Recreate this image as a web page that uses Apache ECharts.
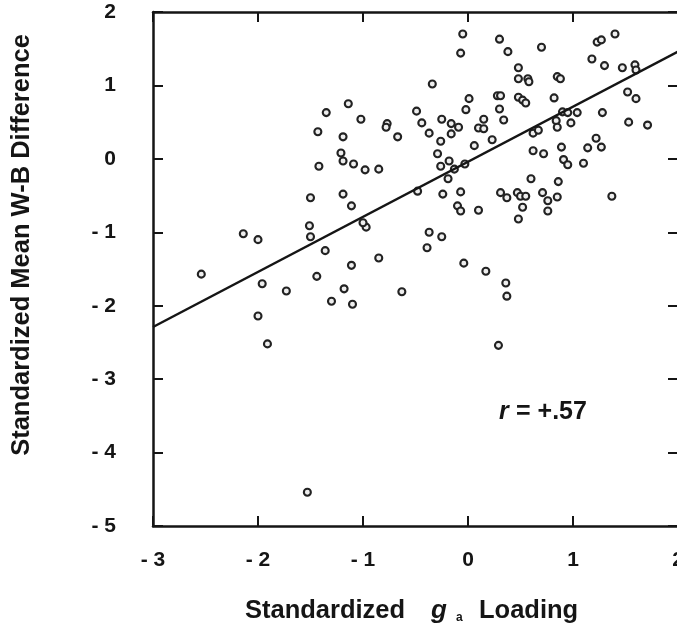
<!DOCTYPE html>
<html>
<head>
<meta charset="utf-8">
<script src="https://cdn.jsdelivr.net/npm/echarts@6/dist/echarts.min.js"></script>
<style>
  html, body { margin: 0; padding: 0; background: #fff; }
  #chart { width: 677px; height: 629px; }
</style>
</head>
<body>
<div id="chart"></div>
<script>
// Standardized g loading (x) against standardized mean W-B difference (y)
const xTickValues = [-3, -2, -1, 0, 1, 2];
const xTickLabels = ['- 3', '- 2', '- 1', '0', '1', '2'];
const yTickValues = [-5, -4, -3, -2, -1, 0, 1, 2];
const yTickLabels = ['- 5', '- 4', '- 3', '- 2', '- 1', '0', '1', '2'];

const gLoading = [
  -1.35, -1.43, -1.42, -1.50, -0.05, 0.30, -0.07, 0.38, -0.34, -1.14,
  0.01, 0.28, 0.31, -0.49, -0.02, 0.30, -1.02, -0.25, 0.15, 0.34,
  -0.77, -0.78, -0.44, -0.16, -0.09, 0.10, 0.15, -1.19, -0.67, -0.37,
  -0.16, -0.26, 0.23, 0.06, -1.21, -1.19, -0.29, -1.09, -0.98, -0.85,
  -0.26, -0.18, -0.13, -0.03, -0.19, -1.19, -0.48, -0.24, -0.07, 0.31,
  0.37, 0.70, 1.23, 1.27, 1.40, 1.18, 1.30, 1.47, 1.59, 1.60,
  0.48, 0.48, 0.57, 0.58, 0.85, 0.88, 1.52, 1.60, 0.48, 0.52,
  0.55, 0.82, 1.28, 0.90, 0.95, 1.04, 0.84, 0.85, 0.98, 1.53,
  1.71, 0.62, 0.67, 0.62, 0.72, 0.89, 0.91, 0.95, 1.14, 1.22,
  1.27, 1.10, 0.60, 0.86, 0.47, 0.50, 0.55, 0.71, 1.37, 0.85,
  0.76, 0.52, 0.76, 0.48, 0.36, 0.37, 0.29, -1.11, -0.97, -1.00,
  -0.10, -0.07, 0.10, -0.37, -0.25, -0.39, -0.85, -1.11, -0.04, 0.17,
  -1.18, -1.30, -1.10, -0.63, -2.14, -2.00, -1.51, -1.50, -1.36, -2.54,
  -1.96, -1.73, -1.44, -2.00, -1.91, -1.53
];
const wbDifference = [
  0.63, 0.37, -0.10, -0.53, 1.70, 1.63, 1.44, 1.46, 1.02, 0.75,
  0.82, 0.86, 0.86, 0.65, 0.67, 0.68, 0.54, 0.54, 0.54, 0.53,
  0.48, 0.43, 0.49, 0.48, 0.43, 0.42, 0.41, 0.30, 0.30, 0.35,
  0.34, 0.24, 0.26, 0.18, 0.08, -0.03, 0.07, -0.07, -0.15, -0.14,
  -0.10, -0.03, -0.14, -0.07, -0.27, -0.48, -0.44, -0.48, -0.45, -0.46,
  -0.53, 1.52, 1.59, 1.62, 1.70, 1.36, 1.27, 1.24, 1.28, 1.21,
  1.24, 1.09, 1.09, 1.05, 1.12, 1.09, 0.91, 0.82, 0.84, 0.80,
  0.76, 0.83, 0.63, 0.64, 0.63, 0.63, 0.52, 0.43, 0.49, 0.50,
  0.46, 0.35, 0.39, 0.11, 0.07, 0.16, -0.01, -0.08, 0.15, 0.28,
  0.16, -0.06, -0.27, -0.31, -0.46, -0.51, -0.51, -0.46, -0.51, -0.52,
  -0.57, -0.66, -0.71, -0.82, -1.69, -1.87, -2.54, -0.64, -0.93, -0.87,
  -0.64, -0.71, -0.70, -1.00, -1.06, -1.21, -1.35, -1.45, -1.42, -1.53,
  -1.77, -1.94, -1.98, -1.81, -1.02, -1.10, -0.91, -1.06, -1.25, -1.57,
  -1.70, -1.80, -1.60, -2.14, -2.52, -4.54
];

// Least-squares line, drawn between its two ends
const fitX = [-3, 2];
const fitY = [-2.29, 1.46];

const ink = '#151515';
const fontFamily = '"Liberation Sans", Arial, Helvetica, sans-serif';

function labelFor(values, labels) {
  return function (v) {
    const i = values.findIndex(t => Math.abs(t - v) < 1e-9);
    return i >= 0 ? labels[i] : '';
  };
}

const frameLine = { show: true, onZero: false, lineStyle: { color: ink, width: 2.5 } };
const innerTick = { show: true, inside: true, length: 10, lineStyle: { color: ink, width: 2 } };
const tickFont = { color: ink, fontFamily: fontFamily, fontWeight: 'bold', fontSize: 21 };

const chart = echarts.init(document.getElementById('chart'), null, { renderer: 'canvas' });

chart.setOption({
  backgroundColor: '#ffffff',
  animation: false,
  grid: { left: 153, right: -1, top: 12, bottom: 103, containLabel: false, outerBoundsMode: 'none' },
  xAxis: [
    {
      type: 'value', position: 'bottom', min: -3, max: 2, interval: 1,
      axisLine: frameLine, axisTick: innerTick, splitLine: { show: false },
      axisLabel: Object.assign({ margin: 24, formatter: labelFor(xTickValues, xTickLabels),
        showMinLabel: true, showMaxLabel: true }, tickFont)
    },
    {
      type: 'value', position: 'top', min: -3, max: 2, interval: 1,
      axisLine: frameLine, axisTick: innerTick, splitLine: { show: false },
      axisLabel: { show: false }
    }
  ],
  yAxis: [
    {
      type: 'value', position: 'left', min: -5, max: 2, interval: 1,
      axisLine: frameLine, axisTick: innerTick, splitLine: { show: false },
      axisLabel: Object.assign({ margin: 37, align: 'right', formatter: labelFor(yTickValues, yTickLabels),
        showMinLabel: true, showMaxLabel: true }, tickFont)
    },
    {
      type: 'value', position: 'right', min: -5, max: 2, interval: 1,
      axisLine: frameLine, axisTick: innerTick, splitLine: { show: false },
      axisLabel: { show: false }
    }
  ],
  series: [
    {
      type: 'scatter',
      xAxisIndex: 0, yAxisIndex: 0,
      data: gLoading.map((x, i) => [x, wbDifference[i]]),
      symbol: 'circle',
      symbolSize: 7,
      itemStyle: { color: '#eeeeee', borderColor: '#222222', borderWidth: 2.1, opacity: 1 },
      z: 3
    },
    {
      type: 'line',
      xAxisIndex: 0, yAxisIndex: 0,
      data: fitX.map((x, i) => [x, fitY[i]]),
      showSymbol: false,
      lineStyle: { color: ink, width: 2.5 },
      z: 4
    }
  ],
  graphic: [
    {
      type: 'text', x: 22, y: 245, rotation: Math.PI / 2,
      style: { text: 'Standardized Mean W-B Difference', fill: ink,
        font: 'bold 25.5px ' + fontFamily, align: 'center', verticalAlign: 'middle' }
    },
    {
      type: 'text', x: 245, y: 611,
      style: { text: 'Standardized', fill: ink, font: 'bold 25.5px ' + fontFamily,
        align: 'left', verticalAlign: 'middle' }
    },
    {
      type: 'text', x: 431, y: 611,
      style: { text: 'g', fill: ink, font: 'italic bold 26px ' + fontFamily,
        align: 'left', verticalAlign: 'middle' }
    },
    {
      type: 'text', x: 456, y: 618,
      style: { text: 'a', fill: ink, font: 'bold 12px ' + fontFamily,
        align: 'left', verticalAlign: 'middle' }
    },
    {
      type: 'text', x: 479, y: 611,
      style: { text: 'Loading', fill: ink, font: 'bold 25.5px ' + fontFamily,
        align: 'left', verticalAlign: 'middle' }
    },
    {
      type: 'text', x: 499, y: 412,
      style: { text: 'r', fill: ink, font: 'italic bold 25px ' + fontFamily,
        align: 'left', verticalAlign: 'middle' }
    },
    {
      type: 'text', x: 516, y: 412,
      style: { text: '= +.57', fill: ink, font: 'bold 25px ' + fontFamily,
        align: 'left', verticalAlign: 'middle' }
    }
  ]
});
</script>
</body>
</html>
